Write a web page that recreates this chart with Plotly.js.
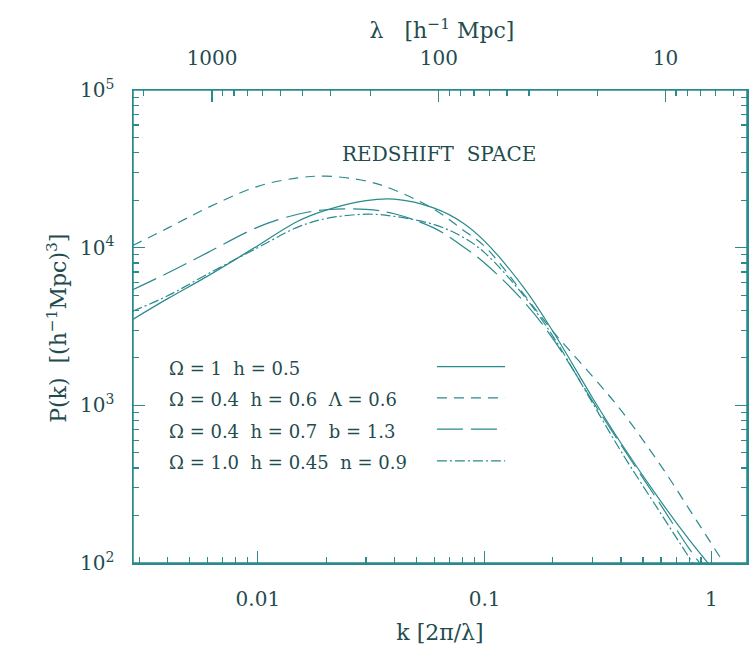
<!DOCTYPE html>
<html>
<head>
<meta charset="utf-8">
<script src="https://cdn.plot.ly/plotly-3.0.1.min.js"></script>
<style>
  html, body { margin: 0; padding: 0; background: #ffffff; }
  #chart { width: 753px; height: 654px; }
</style>
</head>
<body>
<div id="chart"></div>
<script>
// Wavenumber grid, k in units of 2π/λ (h Mpc^-1)
const kValues = [0.0028, 0.004, 0.006, 0.01, 0.015, 0.02, 0.03, 0.04, 0.06, 0.08,
                 0.1, 0.15, 0.2, 0.3, 0.4, 0.6, 0.8, 1.0, 1.2, 1.4];

// Redshift-space power spectra P(k) in (h^-1 Mpc)^3
const pOmega1 = [3500, 4750, 6600, 10300, 14700, 17300, 19900, 20300, 17800, 14400,
                 11000, 5500, 2950, 1110, 575, 245, 140, 94, 68, 51];
const pLambda = [10300, 13300, 17900, 24500, 27700, 28400, 26500, 23200, 17500, 13000,
                 10200, 5000, 2950, 1520, 930, 413, 219, 133, 88, 62];
const pBiased = [5400, 6900, 9300, 13500, 16300, 17400, 17500, 16400, 13300, 10200,
                 8000, 4500, 2650, 1060, 560, 232, 123, 80, 57, 43];
const pTilted = [3950, 4950, 6800, 10000, 13500, 15300, 16300, 15800, 14000, 11700,
                 9300, 4900, 2750, 1030, 510, 205, 108, 66, 47, 34];

const seriesLabels = [
  'Ω\u00a0=\u00a01\u00a0\u00a0h\u00a0=\u00a00.5',
  'Ω\u00a0=\u00a00.4\u00a0\u00a0h\u00a0=\u00a00.6\u00a0\u00a0Λ\u00a0=\u00a00.6',
  'Ω\u00a0=\u00a00.4\u00a0\u00a0h\u00a0=\u00a00.7\u00a0\u00a0b\u00a0=\u00a01.3',
  'Ω\u00a0=\u00a01.0\u00a0\u00a0h\u00a0=\u00a00.45\u00a0\u00a0n\u00a0=\u00a00.9'
];

// Axis extents: k range of the frame, P range in decades
const kMin = 0.002814, kMax = 1.437;
const pDecades = [2, 5];

// Tick positions (major = labelled decades, minor = 2..9 within each decade)
const kMajor = [0.01, 0.1, 1];
const kMinor = [0.003, 0.004, 0.005, 0.006, 0.007, 0.008, 0.009,
                0.02, 0.03, 0.04, 0.05, 0.06, 0.07, 0.08, 0.09,
                0.2, 0.3, 0.4, 0.5, 0.6, 0.7, 0.8, 0.9];
const lamMajor = [1000, 100, 10];
const lamMinor = [2000, 900, 800, 700, 600, 500, 400, 300, 200,
                  90, 80, 70, 60, 50, 40, 30, 20, 9, 8, 7, 6, 5];
const pMajor = [100, 1000, 10000, 100000];
const pMinor = [200, 300, 400, 500, 600, 700, 800, 900,
                2000, 3000, 4000, 5000, 6000, 7000, 8000, 9000,
                20000, 30000, 40000, 50000, 60000, 70000, 80000, 90000];

const INK = '#2a8a8d';
const TEXT = '#1f4c4f';
const FONT = 'DejaVu Serif, Liberation Serif, serif';
const MAJOR_LEN = 12, MINOR_LEN = 6;

const dashes = ['solid', '10px,7px', '26px,8px', '10px,3px,2px,3px'];
const spectra = [pOmega1, pLambda, pBiased, pTilted];

const traces = spectra.map((p, i) => ({
  x: kValues, y: p, type: 'scatter', mode: 'lines', name: seriesLabels[i],
  line: { color: INK, width: 1.2, dash: dashes[i], shape: 'spline', smoothing: 1 }
}));

// The wavelength axis on top needs a trace of its own to be laid out;
// this one carries the same spectrum against λ = 2π/k and draws nothing.
traces.push({
  x: kValues.map(k => 2 * Math.PI / k), y: pOmega1, xaxis: 'x2', yaxis: 'y',
  type: 'scatter', mode: 'none'
});

// Log axis with labels every decade; tick marks are drawn as shapes below
function logAxis(extra) {
  return Object.assign({
    type: 'log', showgrid: false, zeroline: false,
    showline: true, linecolor: INK, linewidth: 1.5,
    tickmode: 'linear', tick0: 0, dtick: 1,
    ticks: 'inside', ticklen: MAJOR_LEN, tickwidth: 1.2, tickcolor: INK,
    tickfont: { family: FONT, size: 20, color: TEXT },
    exponentformat: 'none',
    minor: { dtick: 'D1', ticks: 'inside', ticklen: MINOR_LEN, tickwidth: 1.2, tickcolor: INK },
    fixedrange: true, autorange: false
  }, extra);
}

// Legend rows: text on the left, line sample on the right
const rowY = [0.411, 0.345, 0.279, 0.212];
const annotations = seriesLabels.map((t, i) => ({
  text: t, xref: 'paper', yref: 'paper', x: 0.055, y: rowY[i],
  xanchor: 'left', yanchor: 'middle', showarrow: false,
  font: { family: FONT, size: 18, color: TEXT }
}));
annotations.push(
  { text: 'REDSHIFT\u00a0\u00a0SPACE', xref: 'paper', yref: 'paper', x: 0.498, y: 0.894,
    showarrow: false, font: { family: FONT, size: 20, color: TEXT } },
  { text: 'P(k)\u00a0\u00a0[(h<sup>−1</sup>Mpc)<sup>3</sup>]', xref: 'paper', yref: 'paper',
    x: -0.150, y: 0.497, textangle: -90, showarrow: false,
    font: { family: FONT, size: 22, color: TEXT } }
);

const tickLine = { color: INK, width: 1.2 };
const shapes = [];

// Legend line samples
dashes.forEach((d, i) => shapes.push({
  type: 'line', xref: 'paper', yref: 'paper',
  x0: 0.495, x1: 0.606, y0: rowY[i] + 0.004, y1: rowY[i] + 0.004,
  line: { color: INK, width: 1.2, dash: d }
}));

// Plot frame
shapes.push({ type: 'rect', xref: 'paper', yref: 'paper', x0: 0, x1: 1, y0: 0, y1: 1,
              line: { color: INK, width: 1.5 }, fillcolor: 'rgba(0,0,0,0)' });

// Inward tick marks; shape coordinates on log axes are given in log10 units
function xTicks(vals, axis, len, atTop) {
  vals.forEach(v => shapes.push({
    type: 'line', xref: axis, yref: 'paper', x0: Math.log10(v), x1: Math.log10(v),
    ysizemode: 'pixel', yanchor: atTop ? 1 : 0, y0: 0, y1: atTop ? -len : len, line: tickLine
  }));
}
function yTicks(vals, len) {
  vals.forEach(v => {
    [0, 1].forEach(side => shapes.push({
      type: 'line', xref: 'paper', yref: 'y', y0: Math.log10(v), y1: Math.log10(v),
      xsizemode: 'pixel', xanchor: side, x0: 0, x1: side ? -len : len, line: tickLine
    }));
  });
}
xTicks(kMajor, 'x', MAJOR_LEN, false);
xTicks(kMinor, 'x', MINOR_LEN, false);
xTicks(lamMajor, 'x2', MAJOR_LEN, true);
xTicks(lamMinor, 'x2', MINOR_LEN, true);
yTicks(pMajor, MAJOR_LEN);
yTicks(pMinor, MINOR_LEN);

const layout = {
  width: 753, height: 654,
  margin: { l: 133, r: 6, t: 90, b: 91 },
  showlegend: false,
  // wavelength label sits above the top axis
  title: {
    text: 'λ\u00a0\u00a0\u00a0[h<sup>−1</sup>\u00a0Mpc]',
    xref: 'container', yref: 'container', x: 0.587, y: 0.954,
    xanchor: 'center', yanchor: 'middle',
    font: { family: FONT, size: 22, color: TEXT }
  },
  xaxis: logAxis({
    range: [Math.log10(kMin), Math.log10(kMax)],
    ticklabelstandoff: 17,
    title: { text: 'k\u00a0[2π/λ]', font: { family: FONT, size: 22, color: TEXT } }
  }),
  xaxis2: logAxis({
    overlaying: 'x', side: 'top', anchor: 'y',
    range: [Math.log10(2 * Math.PI / kMin), Math.log10(2 * Math.PI / kMax)],
    ticklabelstandoff: 16
  }),
  yaxis: logAxis({
    range: pDecades, mirror: 'ticks',
    exponentformat: 'power',
    tickfont: { family: FONT, size: 16, color: TEXT },
    ticklabelstandoff: 14
  }),
  annotations: annotations,
  shapes: shapes
};

Plotly.newPlot('chart', traces, layout, { staticPlot: true, displayModeBar: false });
</script>
</body>
</html>
